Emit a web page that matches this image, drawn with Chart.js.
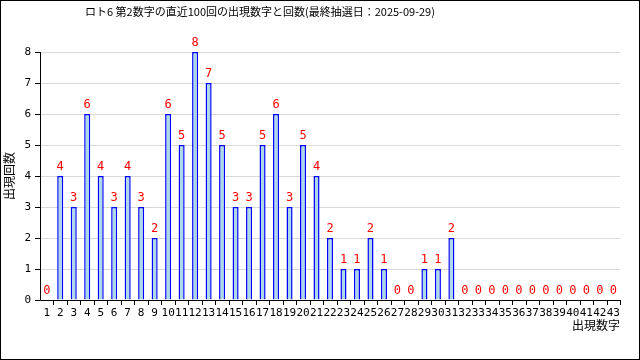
<!DOCTYPE html>
<html><head><meta charset="utf-8">
<script src="https://cdn.jsdelivr.net/npm/chart.js@4"></script>
<style>
html,body{margin:0;padding:0;background:#fff;}
#wrap{position:absolute;left:0;top:0;width:638px;height:358px;border:1px solid #000;}
canvas{display:block;}
</style></head>
<body><div id="wrap"><canvas id="c" width="638" height="358"></canvas></div>
<script>
const categories = ["1","2","3","4","5","6","7","8","9","10","11","12","13","14","15","16","17","18","19","20","21","22","23","24","25","26","27","28","29","30","31","32","33","34","35","36","37","38","39","40","41","42","43"];
const counts = [0,4,3,6,4,3,4,3,2,6,5,8,7,5,3,3,5,6,3,5,4,2,1,1,2,1,0,0,1,1,2,0,0,0,0,0,0,0,0,0,0,0,0];
const yTicks = [0,1,2,3,4,5,6,7,8];
const titleText = "ロト6 第2数字の直近100回の出現数字と回数(最終抽選日：2025-09-29)";
const xTitle = "出現数字";
const yTitle = "出現回数";

const labelPlugin = {
  id: 'vals',
  afterDatasetsDraw(chart) {
    const ctx = chart.ctx;
    const meta = chart.getDatasetMeta(0);
    ctx.save();
    ctx.fillStyle = '#ff0000';
    ctx.font = '12px "DejaVu Sans Mono", monospace';
    ctx.textAlign = 'center';
    ctx.textBaseline = 'bottom';
    meta.data.forEach((el, i) => {
      ctx.fillText(String(counts[i]), el.x, el.y - 3);
    });
    ctx.restore();
  }
};
const axisPlugin = {
  id: 'axes',
  afterDraw(chart) {
    const ctx = chart.ctx, a = chart.chartArea;
    const ys = chart.scales.y;
    ctx.save();
    ctx.strokeStyle = '#000'; ctx.lineWidth = 1;
    ctx.beginPath();
    ctx.moveTo(a.left + 0.5, a.top); ctx.lineTo(a.left + 0.5, a.bottom + 0.5);
    ctx.lineTo(a.right, a.bottom + 0.5);
    const n = categories.length;
    const w = (a.right - a.left) / n;
    for (let i = 1; i <= n; i++) {
      const x = Math.round(a.left + i * w) + 0.5;
      ctx.moveTo(x, a.bottom); ctx.lineTo(x, a.bottom + 5);
    }
    yTicks.forEach(v => {
      const y = Math.round(ys.getPixelForValue(v)) + 0.5;
      ctx.moveTo(a.left - 5, y); ctx.lineTo(a.left, y);
    });
    ctx.stroke();
    // titles
    ctx.fillStyle = '#000';
    ctx.font = '11px "Noto Sans CJK JP", sans-serif';
    ctx.textAlign = 'left'; ctx.textBaseline = 'middle';
    ctx.fillText(titleText, 84, 11);
    ctx.font = '12px "Noto Sans CJK JP", sans-serif';
    ctx.textAlign = 'right';
    ctx.fillText(xTitle, a.right, 324);
    ctx.save();
    ctx.translate(8, (a.top + a.bottom) / 2);
    ctx.rotate(-Math.PI / 2);
    ctx.textAlign = 'center';
    ctx.fillText(yTitle, 0, 0);
    ctx.restore();
    ctx.restore();
  }
};

new Chart(document.getElementById('c'), {
  type: 'bar',
  data: { labels: categories, datasets: [{
    data: counts,
    backgroundColor: '#add8e6',
    borderColor: '#0000ff',
    borderWidth: 1.5,
    borderSkipped: 'bottom',
    barPercentage: 0.45,
    categoryPercentage: 1.0
  }]},
  options: {
    responsive: false, animation: false, devicePixelRatio: 1,
    layout: { padding: { left: 0, right: 19, top: 51, bottom: 0 } },
    plugins: { legend: { display: false }, tooltip: { enabled: false }, title: { display: false } },
    scales: {
      x: {
        afterFit(s) { s.height = 59; },
        grid: { display: false, drawTicks: false },
        border: { display: false },
        ticks: { color: '#000', autoSkip: false, maxRotation: 0, padding: 7,
          font: { family: '"DejaVu Sans Mono", monospace', size: 11 } }
      },
      y: {
        min: 0, max: 8,
        afterFit(s) { s.width = 39; },
        grid: { color: '#d9d9d9', drawTicks: false, lineWidth: 1 },
        border: { display: false },
        ticks: { stepSize: 1, color: '#000', padding: 9,
          font: { family: '"DejaVu Sans Mono", monospace', size: 11 } }
      }
    }
  },
  plugins: [labelPlugin, axisPlugin]
});
</script>
</body></html>
